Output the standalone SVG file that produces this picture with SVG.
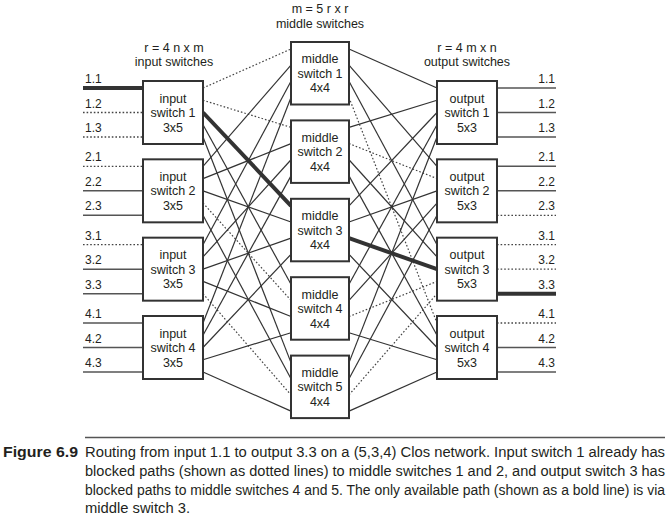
<svg xmlns="http://www.w3.org/2000/svg" width="670" height="517" viewBox="0 0 670 517">
<style>
.box{fill:#fff;stroke:#333;stroke-width:2}
.c{stroke:#333;stroke-width:1.2;fill:none}
.d{stroke:#444;stroke-width:1.2;stroke-dasharray:1.6 2;fill:none}
.b{stroke:#333;stroke-width:4;fill:none}
.e{stroke:#555;stroke-width:1.5;fill:none}
.ed{stroke:#444;stroke-width:1.3;stroke-dasharray:1.6 2;fill:none}
text{font-family:'Liberation Sans',Arial,sans-serif;fill:#231f20}
.bt{font-size:12.5px;text-anchor:middle}
.h{font-size:12.5px;text-anchor:middle}
.l{font-size:12px}
.r{font-size:12px;text-anchor:end}
.cap{font-family:'Liberation Sans Narrow','Liberation Sans',sans-serif;font-size:14px}
</style>
<rect width="670" height="517" fill="#fff"/>
<g id="headers">
<text class="h" x="320" y="13">m = 5 r x r</text>
<text class="h" x="320" y="28">middle switches</text>
<text class="h" x="174" y="51.5">r = 4 n x m</text>
<text class="h" x="174" y="66">input switches</text>
<text class="h" x="467" y="51.5">r = 4 m x n</text>
<text class="h" x="467" y="66">output switches</text>
</g>
<g id="connectors">
<path class="d" d="M203,88L291,49"/>
<path class="d" d="M203,100.25L291,127.4"/>
<path class="b" d="M203,112.5L291,205.8"/>
<path class="c" d="M203,124.75L291,284.2"/>
<path class="c" d="M203,137L291,362.6"/>
<path class="c" d="M203,166.33L291,65.17"/>
<path class="c" d="M203,178.58L291,143.57"/>
<path class="c" d="M203,190.83L291,221.97"/>
<path class="d" d="M203,203.08L291,300.37"/>
<path class="c" d="M203,215.33L291,378.77"/>
<path class="c" d="M203,244.67L291,81.33"/>
<path class="c" d="M203,256.92L291,159.73"/>
<path class="c" d="M203,269.17L291,238.13"/>
<path class="c" d="M203,281.42L291,316.53"/>
<path class="d" d="M203,293.67L291,394.93"/>
<path class="c" d="M203,323L291,97.5"/>
<path class="c" d="M203,335.25L291,175.9"/>
<path class="c" d="M203,347.5L291,254.3"/>
<path class="c" d="M203,359.75L291,332.7"/>
<path class="c" d="M203,372L291,411.1"/>
<path class="c" d="M349,49L437,88"/>
<path class="c" d="M349,65.17L437,166.33"/>
<path class="c" d="M349,81.33L437,244.67"/>
<path class="d" d="M349,97.5L437,323"/>
<path class="c" d="M349,127.4L437,100.25"/>
<path class="d" d="M349,143.57L437,178.58"/>
<path class="c" d="M349,159.73L437,256.92"/>
<path class="c" d="M349,175.9L437,335.25"/>
<path class="c" d="M349,205.8L437,112.5"/>
<path class="c" d="M349,221.97L437,190.83"/>
<path class="b" d="M349,238.13L437,269.17"/>
<path class="c" d="M349,254.3L437,347.5"/>
<path class="c" d="M349,284.2L437,124.75"/>
<path class="c" d="M349,300.37L437,203.08"/>
<path class="d" d="M349,316.53L437,281.42"/>
<path class="c" d="M349,332.7L437,359.75"/>
<path class="c" d="M349,362.6L437,137"/>
<path class="c" d="M349,378.77L437,215.33"/>
<path class="d" d="M349,394.93L437,293.67"/>
<path class="c" d="M349,411.1L437,372"/>
<path class="b" d="M83,88H143"/>
<path class="ed" d="M83,112.5H143"/>
<path class="ed" d="M83,137H143"/>
<path class="ed" d="M83,166.33H143"/>
<path class="e" d="M83,190.83H143"/>
<path class="e" d="M83,215.33H143"/>
<path class="ed" d="M83,244.67H143"/>
<path class="e" d="M83,269.17H143"/>
<path class="e" d="M83,293.67H143"/>
<path class="e" d="M83,323H143"/>
<path class="e" d="M83,347.5H143"/>
<path class="e" d="M83,372H143"/>
<path class="e" d="M497,88H556"/>
<path class="e" d="M497,112.5H556"/>
<path class="e" d="M497,137H556"/>
<path class="e" d="M497,166.33H556"/>
<path class="e" d="M497,190.83H556"/>
<path class="ed" d="M497,215.33H556"/>
<path class="ed" d="M497,244.67H556"/>
<path class="ed" d="M497,269.17H556"/>
<path class="b" d="M497,293.67H556"/>
<path class="ed" d="M497,323H556"/>
<path class="e" d="M497,347.5H556"/>
<path class="e" d="M497,372H556"/>
</g>
<g id="input-labels">
<text class="l" x="85" y="83">1.1</text>
<text class="l" x="85" y="107.5">1.2</text>
<text class="l" x="85" y="132">1.3</text>
<text class="l" x="85" y="161.3">2.1</text>
<text class="l" x="85" y="185.8">2.2</text>
<text class="l" x="85" y="210.3">2.3</text>
<text class="l" x="85" y="239.7">3.1</text>
<text class="l" x="85" y="264.2">3.2</text>
<text class="l" x="85" y="288.7">3.3</text>
<text class="l" x="85" y="318">4.1</text>
<text class="l" x="85" y="342.5">4.2</text>
<text class="l" x="85" y="367">4.3</text>
</g>
<g id="output-labels">
<text class="r" x="555" y="83">1.1</text>
<text class="r" x="555" y="107.5">1.2</text>
<text class="r" x="555" y="132">1.3</text>
<text class="r" x="555" y="161.3">2.1</text>
<text class="r" x="555" y="185.8">2.2</text>
<text class="r" x="555" y="210.3">2.3</text>
<text class="r" x="555" y="239.7">3.1</text>
<text class="r" x="555" y="264.2">3.2</text>
<text class="r" x="555" y="288.7">3.3</text>
<text class="r" x="555" y="318">4.1</text>
<text class="r" x="555" y="342.5">4.2</text>
<text class="r" x="555" y="367">4.3</text>
</g>
<g id="input-switch-1"><rect class="box" x="143" y="81" width="60" height="63"/><text class="bt" x="173" y="102.5">input</text><text class="bt" x="173" y="117">switch 1</text><text class="bt" x="173" y="131.5">3x5</text></g>
<g id="input-switch-2"><rect class="box" x="143" y="159.33" width="60" height="63"/><text class="bt" x="173" y="180.8">input</text><text class="bt" x="173" y="195.3">switch 2</text><text class="bt" x="173" y="209.8">3x5</text></g>
<g id="input-switch-3"><rect class="box" x="143" y="237.67" width="60" height="63"/><text class="bt" x="173" y="259.2">input</text><text class="bt" x="173" y="273.7">switch 3</text><text class="bt" x="173" y="288.2">3x5</text></g>
<g id="input-switch-4"><rect class="box" x="143" y="316" width="60" height="63"/><text class="bt" x="173" y="337.5">input</text><text class="bt" x="173" y="352">switch 4</text><text class="bt" x="173" y="366.5">3x5</text></g>
<g id="middle-switch-1"><rect class="box" x="291" y="42" width="58" height="62.5"/><text class="bt" x="320" y="63.3">middle</text><text class="bt" x="320" y="77.8">switch 1</text><text class="bt" x="320" y="92.3">4x4</text></g>
<g id="middle-switch-2"><rect class="box" x="291" y="120.4" width="58" height="62.5"/><text class="bt" x="320" y="141.7">middle</text><text class="bt" x="320" y="156.2">switch 2</text><text class="bt" x="320" y="170.7">4x4</text></g>
<g id="middle-switch-3"><rect class="box" x="291" y="198.8" width="58" height="62.5"/><text class="bt" x="320" y="220.1">middle</text><text class="bt" x="320" y="234.6">switch 3</text><text class="bt" x="320" y="249.1">4x4</text></g>
<g id="middle-switch-4"><rect class="box" x="291" y="277.2" width="58" height="62.5"/><text class="bt" x="320" y="298.5">middle</text><text class="bt" x="320" y="313">switch 4</text><text class="bt" x="320" y="327.5">4x4</text></g>
<g id="middle-switch-5"><rect class="box" x="291" y="355.6" width="58" height="62.5"/><text class="bt" x="320" y="376.9">middle</text><text class="bt" x="320" y="391.4">switch 5</text><text class="bt" x="320" y="405.9">4x4</text></g>
<g id="output-switch-1"><rect class="box" x="437" y="81" width="60" height="63"/><text class="bt" x="467" y="102.5">output</text><text class="bt" x="467" y="117">switch 1</text><text class="bt" x="467" y="131.5">5x3</text></g>
<g id="output-switch-2"><rect class="box" x="437" y="159.33" width="60" height="63"/><text class="bt" x="467" y="180.8">output</text><text class="bt" x="467" y="195.3">switch 2</text><text class="bt" x="467" y="209.8">5x3</text></g>
<g id="output-switch-3"><rect class="box" x="437" y="237.67" width="60" height="63"/><text class="bt" x="467" y="259.2">output</text><text class="bt" x="467" y="273.7">switch 3</text><text class="bt" x="467" y="288.2">5x3</text></g>
<g id="output-switch-4"><rect class="box" x="437" y="316" width="60" height="63"/><text class="bt" x="467" y="337.5">output</text><text class="bt" x="467" y="352">switch 4</text><text class="bt" x="467" y="366.5">5x3</text></g>
<g id="caption">
<path d="M85,437.5H665" stroke="#555" stroke-width="1.5"/>
<text class="cap" x="3" y="456.5" font-weight="bold" textLength="75" lengthAdjust="spacingAndGlyphs">Figure 6.9</text>
<text class="cap" x="85" y="456.5" textLength="580" lengthAdjust="spacingAndGlyphs">Routing from input 1.1 to output 3.3 on a (5,3,4) Clos network. Input switch 1 already has</text>
<text class="cap" x="85" y="475.5" textLength="580" lengthAdjust="spacingAndGlyphs">blocked paths (shown as dotted lines) to middle switches 1 and 2, and output switch 3 has</text>
<text class="cap" x="85" y="494.5" textLength="580" lengthAdjust="spacingAndGlyphs">blocked paths to middle switches 4 and 5. The only available path (shown as a bold line) is via</text>
<text class="cap" x="85" y="513" textLength="105" lengthAdjust="spacingAndGlyphs">middle switch 3.</text>
</g>
</svg>
